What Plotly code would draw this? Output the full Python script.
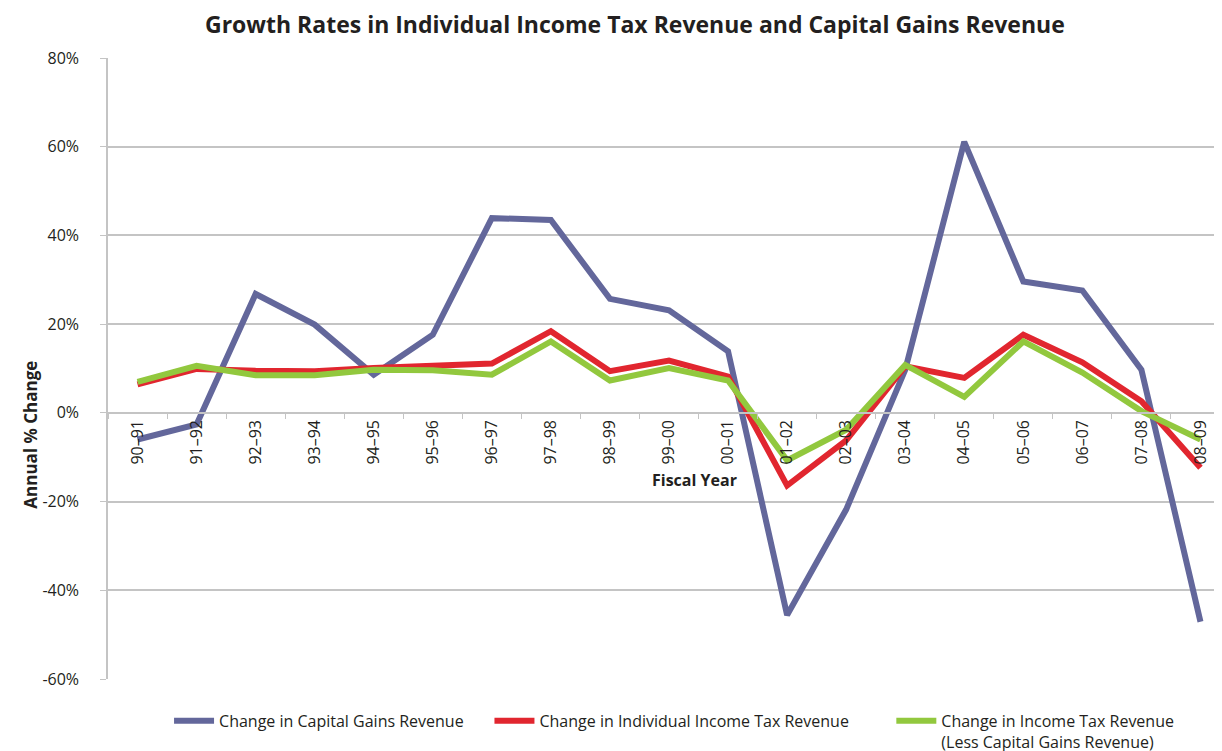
import plotly.graph_objects as go

# Fiscal years (x categories)
years = ['90–91', '91–92', '92–93', '93–94', '94–95', '95–96', '96–97', '97–98', '98–99', '99–00',
         '00–01', '01–02', '02–03', '03–04', '04–05', '05–06', '06–07', '07–08', '08–09']

# Annual % change
capital_gains = [-6.0, -2.6, 26.8, 19.9, 8.6, 17.6, 43.9, 43.5, 25.7, 23.1,
                 13.9, -45.6, -21.8, 9.7, 61.1, 29.6, 27.6, 9.7, -47.1]
income_tax = [6.4, 9.9, 9.5, 9.4, 10.1, 10.5, 11.1, 18.4, 9.4, 11.8,
              8.2, -16.4, -6.2, 10.5, 7.9, 17.6, 11.4, 2.6, -12.4]
income_tax_less_cg = [7.0, 10.6, 8.5, 8.5, 9.7, 9.6, 8.6, 16.1, 7.3, 10.1,
                      7.3, -10.7, -3.8, 10.8, 3.6, 16.1, 9.1, 0.4, -6.0]

# y axis ticks (plain hyphen for negatives, like the original)
y_tick_vals = [-0.6, -0.4, -0.2, 0.0, 0.2, 0.4, 0.6, 0.8]
y_tick_text = ['-60%', '-40%', '-20%', '0%', '20%', '40%', '60%', '80%']

series_names = ['Change in Capital Gains Revenue',
                'Change in Individual Income Tax Revenue',
                'Change in Income Tax Revenue<br>(Less Capital Gains Revenue)']
colors = ['#63679B', '#E1262F', '#92C83E']

FONT = 'Open Sans'
GRID = '#C4C4C4'
TEXT = '#231F20'
# extra room after each legend entry (non-breaking spaces)
legend_pad = [5, 9, 0]


def main():
    fig = go.Figure()
    series = [capital_gains, income_tax, income_tax_less_cg]
    for values, name, color, pad in zip(series, series_names, colors, legend_pad):
        fig.add_trace(go.Scatter(
            x=years, y=[v / 100 for v in values], name=name + '\u00a0' * pad, mode='lines',
            line=dict(color=color, width=6)
        ))

    # y=0 sits 60/140 of the way up the plot area
    zero_pos = 60 / 140

    fig.update_layout(
        width=1222, height=751,
        paper_bgcolor='white', plot_bgcolor='white',
        margin=dict(l=100, r=0, t=49.5, b=78.3),
        font=dict(family=FONT, size=15, color=TEXT),
        title=dict(
            text='<b>Growth Rates in Individual Income Tax Revenue and Capital Gains Revenue</b>',
            x=0.513, xanchor='center', y=0.978, yanchor='middle',
            font=dict(family=FONT, size=23, color=TEXT)
        ),
        xaxis=dict(
            type='category', range=[-0.5, 18.5],
            anchor='free', position=zero_pos,
            showgrid=False, showline=True, linecolor=GRID, linewidth=1.5,
            ticks='outside', tickson='boundaries', ticklen=5, tickcolor=GRID,
            tickangle=-90, tickfont=dict(family=FONT, size=16, color=TEXT),
        ),
        yaxis=dict(
            range=[-0.6, 0.8], tickvals=y_tick_vals, ticktext=y_tick_text,
            showgrid=True, gridcolor=GRID, gridwidth=1.5, zeroline=False,
            showline=True, linecolor=GRID, linewidth=1.5,
            ticks='outside', ticklen=6, tickcolor=GRID, ticklabelstandoff=18,
            tickfont=dict(family=FONT, size=16, color=TEXT),
        ),
        legend=dict(
            orientation='h', x=0.5045, xanchor='center', y=-0.040, yanchor='top',
            valign='top', font=dict(family=FONT, size=16, color=TEXT), itemwidth=40,
            traceorder='normal'
        ),
        annotations=[
            dict(text='<b>Fiscal Year</b>', x=0.5227, y=0.2996, xref='paper', yref='paper',
                 showarrow=False, font=dict(family=FONT, size=16, color=TEXT)),
            dict(text='<b>Annual % Change</b>', x=-0.0811, y=0.3927, xref='paper', yref='paper',
                 textangle=-90, showarrow=False, font=dict(family=FONT, size=17, color=TEXT)),
        ],
    )

    fig.write_html('out.html')


if __name__ == '__main__':
    main()
